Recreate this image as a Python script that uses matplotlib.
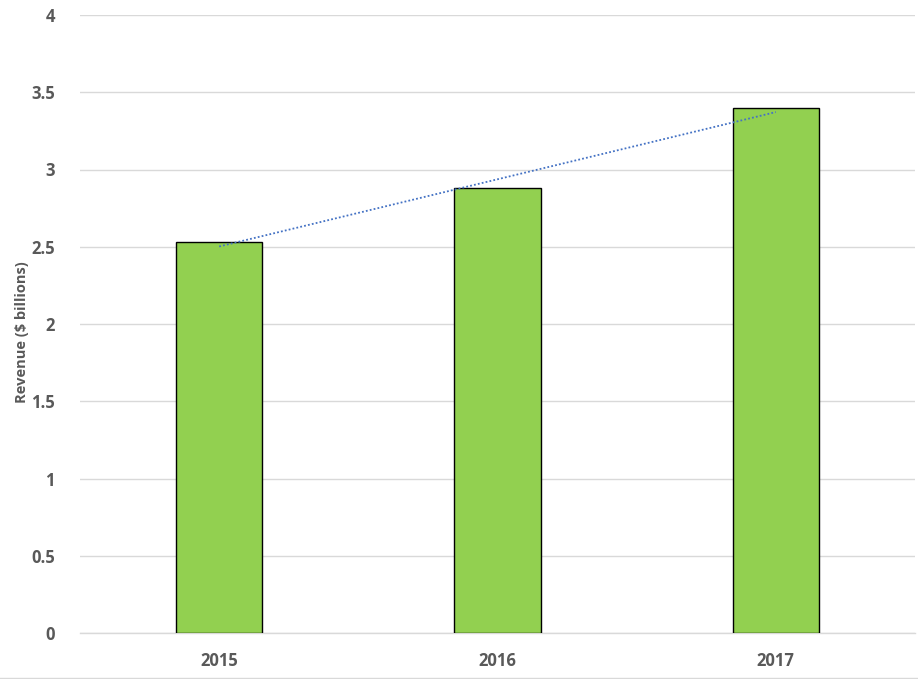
import matplotlib.pyplot as plt
import numpy as np

# Revenue per year
years = ['2015', '2016', '2017']
revenue = [2.53, 2.88, 3.40]
y_ticks = [0, 0.5, 1, 1.5, 2, 2.5, 3, 3.5, 4]
y_labels = ['0', '0.5', '1', '1.5', '2', '2.5', '3', '3.5', '4']

plt.rcParams['font.family'] = ['Open Sans', 'DejaVu Sans']
text_grey = '#595959'

fig = plt.figure(figsize=(9.18, 6.79), dpi=100)
ax = fig.add_axes([80 / 918, 1 - 633 / 679, 835 / 918, 618 / 679])

x = np.arange(len(years))
ax.bar(x, revenue, width=0.31, color='#92d050', edgecolor='black', linewidth=1, zorder=3)

# linear trendline like the spreadsheet one
slope, intercept = np.polyfit(x, revenue, 1)
ax.plot(x, slope * x + intercept, color='#4472c4', linestyle=(0, (1, 1.2)), linewidth=1.3, zorder=4)

ax.set_xlim(-0.5, 2.5)
ax.set_ylim(0, 4)
ax.set_xticks(x)
ax.set_xticklabels(years)
ax.set_yticks(y_ticks)
ax.set_yticklabels(y_labels)
ax.grid(axis='y', color='#d9d9d9', linewidth=1, zorder=0)

for s in ['top', 'right', 'left']:
    ax.spines[s].set_visible(False)
ax.spines['bottom'].set_color('#d9d9d9')
ax.spines['bottom'].set_linewidth(1)
ax.tick_params(length=0, labelsize=12, colors=text_grey)
ax.tick_params(axis='y', pad=18)
ax.tick_params(axis='x', pad=14)
for lbl in ax.get_xticklabels() + ax.get_yticklabels():
    lbl.set_fontweight('bold')

ax.set_ylabel('Revenue ($ billions)', fontsize=10.5, fontweight='bold', color=text_grey)
ax.yaxis.set_label_coords(-0.061, 0.487)

# light border line at the bottom of the chart
fig.add_artist(plt.Line2D([0, 1], [1 / 679, 1 / 679], color='#d9d9d9', linewidth=1))

plt.savefig('out.png', dpi=100)
